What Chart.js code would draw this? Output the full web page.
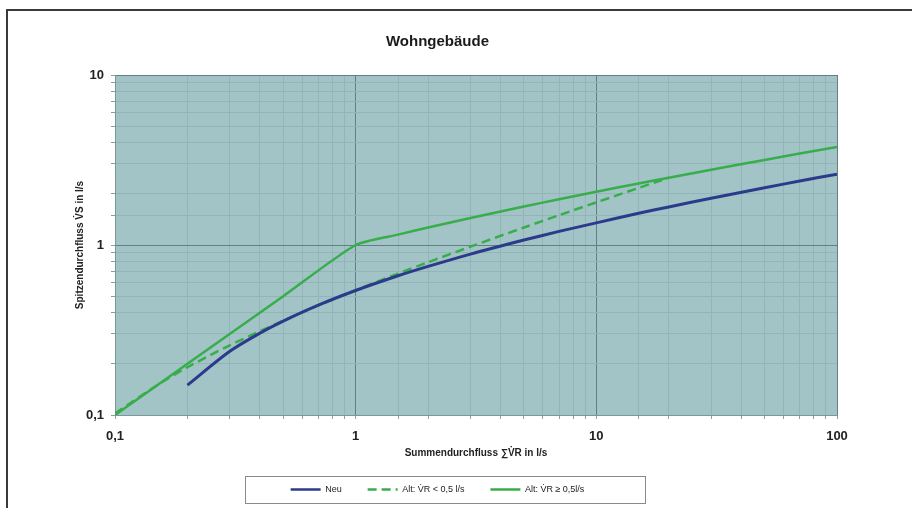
<!DOCTYPE html>
<html>
<head>
<meta charset="utf-8">
<script src="https://cdn.jsdelivr.net/npm/chart.js@4.4.1/dist/chart.umd.min.js"></script>
<style>
    html, body { margin: 0; padding: 0; background: #ffffff; }
    #wrap { width: 912px; height: 508px; }
</style>
</head>
<body>
<div id="wrap"><canvas id="grafico" width="912" height="508"></canvas></div>
<script>
// Werte
var titel = 'Wohngebäude';
var xTicks = [0.1, 1, 10, 100];
var yTicks = [0.1, 1, 10];

var neuX = [0.2, 0.3, 0.4, 0.5, 0.7, 1, 1.5, 2, 3, 5, 7, 10, 15, 20, 30, 50, 70, 100];
var neuY = [0.150, 0.237, 0.303, 0.357, 0.443, 0.54, 0.659, 0.748, 0.884, 1.069, 1.202, 1.35, 1.536, 1.675, 1.884, 2.172, 2.378, 2.61];

var altKleinX = [0.1, 0.15, 0.2, 0.3, 0.5, 0.7, 1, 1.5, 2, 3, 5, 7, 10, 15, 20];
var altKleinY = [0.102, 0.150, 0.191, 0.257, 0.359, 0.441, 0.542, 0.679, 0.792, 0.978, 1.267, 1.497, 1.782, 2.167, 2.486];

var altGrossX = [0.1, 0.2, 0.5, 1, 1.5, 2, 3, 5, 7, 10, 15, 20, 30, 50, 70, 100];
var altGrossY = [0.1, 0.2, 0.5, 1, 1.151, 1.266, 1.441, 1.684, 1.858, 2.057, 2.302, 2.489, 2.773, 3.166, 3.449, 3.772];

var beschriftungen = ['Neu', 'Alt: V\u0307R < 0,5 l/s', 'Alt: V\u0307R \u2265 0,5l/s'];

function punkte(xs, ys) {
    return xs.map(function (x, i) { return { x: x, y: ys[i] }; });
}

function istDekade(v, liste) {
    return liste.some(function (t) { return Math.abs(t - v) < t * 1e-6; });
}

function formatZahl(v) {
    return String(Math.round(v * 1000) / 1000).replace('.', ',');
}

var hintergrund = {
    id: 'hintergrund',
    beforeDraw: function (chart) {
        var ctx = chart.ctx;
        var a = chart.chartArea;
        ctx.save();
        ctx.fillStyle = '#ffffff';
        ctx.fillRect(0, 0, chart.width, chart.height);
        ctx.strokeStyle = '#3a3a3a';
        ctx.lineWidth = 2;
        ctx.beginPath();
        ctx.moveTo(7, chart.height);
        ctx.lineTo(7, 10);
        ctx.lineTo(chart.width, 10);
        ctx.stroke();
        ctx.fillStyle = '#a2c4c6';
        ctx.fillRect(a.left, a.top, a.right - a.left, a.bottom - a.top);
        ctx.restore();
    },
    afterDraw: function (chart) {
        var boxen = chart.legend.legendHitBoxes;
        if (!boxen || !boxen.length)
            return;
        var links = Infinity, rechts = -Infinity, oben = Infinity, unten = -Infinity;
        boxen.forEach(function (b) {
            links = Math.min(links, b.left);
            rechts = Math.max(rechts, b.left + b.width);
            oben = Math.min(oben, b.top);
            unten = Math.max(unten, b.top + b.height);
        });
        var ctx = chart.ctx;
        ctx.save();
        ctx.strokeStyle = '#8a8a8a';
        ctx.lineWidth = 1;
        ctx.strokeRect(Math.round(links - 46) + 0.5, Math.round(oben - 9) + 0.5, Math.round(rechts - links + 106), Math.round(unten - oben + 18));
        ctx.restore();
    }
};

var schrift = "'Liberation Sans', Arial, sans-serif";

new Chart(document.getElementById('grafico').getContext('2d'), {
    type: 'line',
    data: {
        datasets: [{
            label: beschriftungen[0],
            data: punkte(neuX, neuY),
            borderColor: '#2c3a8c',
            backgroundColor: '#2c3a8c',
            borderWidth: 3,
            pointRadius: 0,
            tension: 0.3,
            order: 0
        }, {
            label: beschriftungen[1],
            data: punkte(altKleinX, altKleinY),
            borderColor: '#38ad4c',
            backgroundColor: '#38ad4c',
            borderWidth: 2.5,
            borderDash: [9, 5],
            pointRadius: 0,
            tension: 0.3,
            order: 2
        }, {
            label: beschriftungen[2],
            data: punkte(altGrossX, altGrossY),
            borderColor: '#38ad4c',
            backgroundColor: '#38ad4c',
            borderWidth: 2.5,
            pointRadius: 0,
            tension: 0.2,
            order: 1
        }]
    },
    options: {
        responsive: false,
        animation: false,
        devicePixelRatio: 1,
        layout: {
            padding: { left: 38, right: 75, top: 15, bottom: 4 }
        },
        scales: {
            x: {
                type: 'logarithmic',
                min: 0.1,
                max: 100,
                afterFit: function (s) { s.height = 44; },
                border: { display: true, color: '#7d9698' },
                grid: {
                    color: function (c) { return istDekade(c.tick.value, xTicks) ? '#5f8183' : '#93b5b7'; },
                    tickColor: '#8aa0a2',
                    tickLength: 4
                },
                ticks: {
                    autoSkip: false,
                    maxRotation: 0,
                    padding: 10,
                    color: '#222222',
                    font: { family: schrift, size: 13, weight: 'bold' },
                    callback: function (v) { return istDekade(v, xTicks) ? formatZahl(v) : ''; }
                },
                title: {
                    display: true,
                    text: 'Summendurchfluss \u2211V\u0307R in l/s',
                    color: '#222222',
                    font: { family: schrift, size: 10, weight: 'bold' },
                    padding: { top: 0, bottom: 0 }
                }
            },
            y: {
                type: 'logarithmic',
                min: 0.1,
                max: 10,
                afterFit: function (s) { s.width = 77; },
                border: { display: true, color: '#7d9698' },
                grid: {
                    color: function (c) { return istDekade(c.tick.value, yTicks) ? '#5f8183' : '#93b5b7'; },
                    tickColor: '#8aa0a2',
                    tickLength: 4
                },
                ticks: {
                    autoSkip: false,
                    padding: 7,
                    color: '#222222',
                    font: { family: schrift, size: 13, weight: 'bold' },
                    callback: function (v) { return istDekade(v, yTicks) ? formatZahl(v) : ''; }
                },
                title: {
                    display: true,
                    text: 'Spitzendurchfluss V\u0307S in l/s',
                    color: '#222222',
                    font: { family: schrift, size: 10, weight: 'bold' },
                    padding: { top: 36, bottom: 0 }
                }
            }
        },
        plugins: {
            title: {
                display: true,
                text: titel,
                color: '#1a1a1a',
                font: { family: schrift, size: 15, weight: 'bold' },
                padding: { top: 18, bottom: 24 }
            },
            legend: {
                position: 'bottom',
                maxHeight: 45,
                labels: {
                    usePointStyle: true,
                    pointStyle: 'line',
                    pointStyleWidth: 30,
                    boxWidth: 30,
                    padding: 26,
                    color: '#222222',
                    font: { family: schrift, size: 9 },
                    sort: function (a, b) { return a.datasetIndex - b.datasetIndex; },
                    generateLabels: function (chart) {
                        return chart.data.datasets.map(function (d, i) {
                            return {
                                text: d.label,
                                fontColor: '#222222',
                                strokeStyle: d.borderColor,
                                fillStyle: d.borderColor,
                                lineWidth: 2.5,
                                lineDash: d.borderDash || [],
                                pointStyle: 'line',
                                hidden: false,
                                datasetIndex: i
                            };
                        });
                    }
                }
            },
            tooltip: { enabled: false }
        }
    },
    plugins: [hintergrund]
});
</script>
</body>
</html>
